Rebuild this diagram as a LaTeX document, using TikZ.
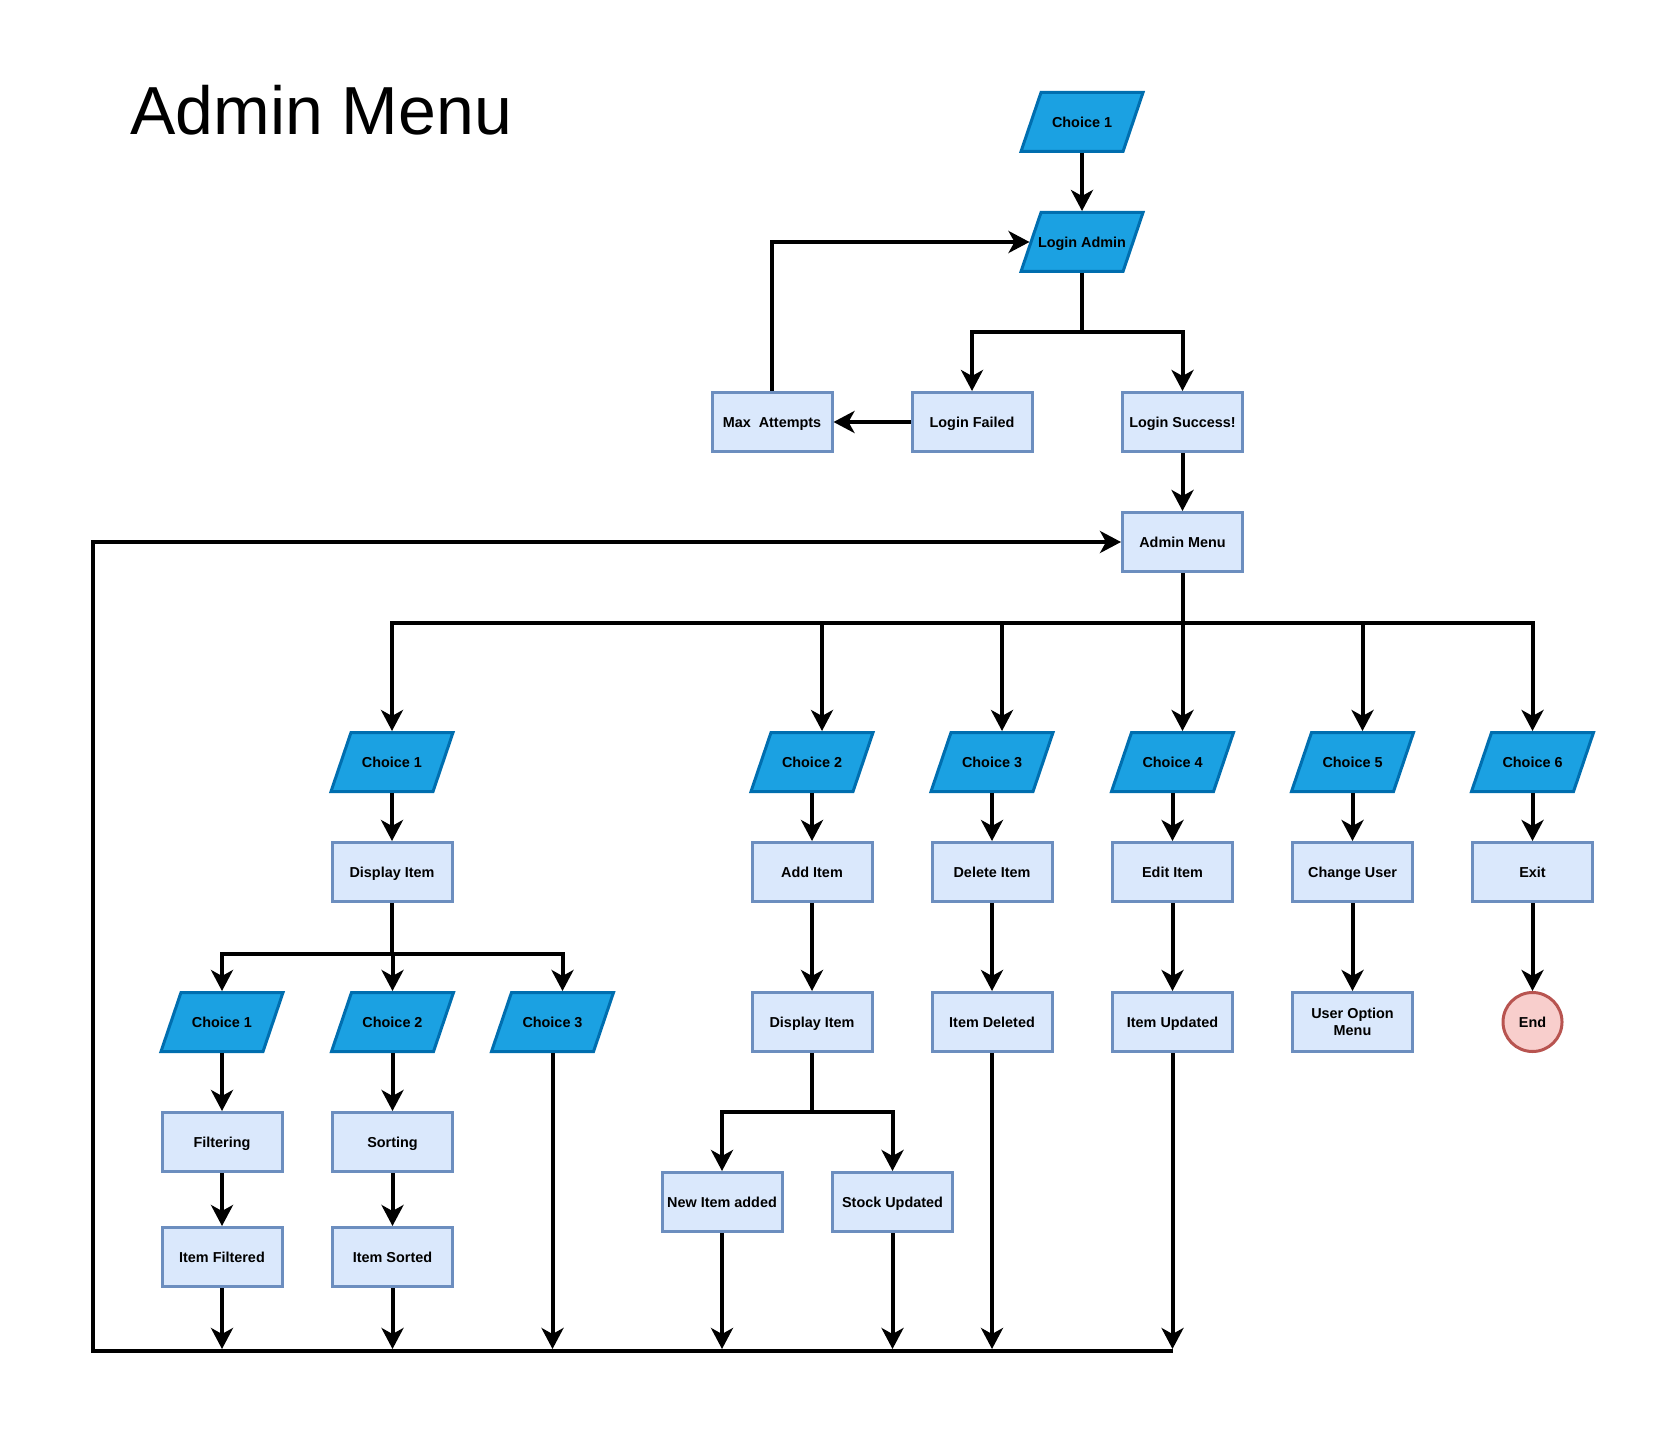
\documentclass[tikz,border=0pt]{standalone}
\usepackage{fontspec}
\setmainfont{Liberation Sans}
\usetikzlibrary{arrows.meta,calc}
\definecolor{iofill}{HTML}{1BA1E2}
\definecolor{iodraw}{HTML}{006EAF}
\definecolor{rectfill}{HTML}{DAE8FC}
\definecolor{rectdraw}{HTML}{6C8EBF}
\definecolor{endfill}{HTML}{F8CECC}
\definecolor{enddraw}{HTML}{B85450}
\newcommand\bxfont{\fontsize{7.2}{8.4}\selectfont\bfseries}
\tikzset{
  proc/.style={draw=rectdraw, fill=rectfill, line width=1.5pt, minimum width=60pt, minimum height=29.5pt, inner sep=1pt, align=center, font=\bxfont, text height=6pt, text depth=0.9pt},
  iotext/.style={minimum width=61pt, minimum height=29.5pt, inner sep=1pt, outer sep=0.75pt, align=center, font=\bxfont, text height=6pt, text depth=0.9pt},
  iobody/.style={fill=iofill, draw=iodraw, line width=1.5pt, line join=miter},
  endc/.style={circle, draw=enddraw, fill=endfill, line width=1.5pt, minimum size=29.5pt, inner sep=0pt, font=\bxfont, text height=6pt, text depth=0.9pt},
  ln/.style={line width=2pt, draw=black, line join=miter},
  arr/.style={ln, -{Stealth[length=10.5pt,width=11pt,inset=3pt]}},
  titlefont/.style={anchor=base west, inner sep=0pt, font=\fontsize{34}{40}\selectfont}
}
% parallelogram: name, x, y, text
\newcommand\iobox[4]{%
  \path[iobody] ({#2-61},{#3+29.5}) -- ({#2-41},{#3-29.5}) -- ({#2+61},{#3-29.5}) -- ({#2+41},{#3+29.5}) -- cycle;
  \node[iotext] (#1) at (#2,#3) {#4};
}
\begin{document}
\begin{tikzpicture}[x=0.5pt, y=-0.5pt]
\useasboundingbox (0,0) rectangle (1657,1443);

\node[titlefont] (title) at (130,135) {Admin Menu};

% top part
\iobox{c0}{1082}{122}{Choice 1}
\iobox{la}{1082}{242}{Login Admin}
\node[proc] (ma) at (772,422) {Max\ \ Attempts};
\node[proc] (lf) at (972,422) {Login Failed};
\node[proc] (ls) at (1182.5,422) {Login Success!};
\node[proc] (am) at (1182.5,542) {Admin Menu};

% choices row
\iobox{ch1}{392}{762}{Choice 1}
\iobox{ch2}{812}{762}{Choice 2}
\iobox{ch3}{992}{762}{Choice 3}
\iobox{ch4}{1172.5}{762}{Choice 4}
\iobox{ch5}{1352.5}{762}{Choice 5}
\iobox{ch6}{1532.5}{762}{Choice 6}

% second row
\node[proc] (di1) at (392,872) {Display Item};
\node[proc] (ai) at (812,872) {Add Item};
\node[proc] (dl) at (992,872) {Delete Item};
\node[proc] (ei) at (1172.5,872) {Edit Item};
\node[proc] (cu) at (1352.5,872) {Change User};
\node[proc] (ex) at (1532.5,872) {Exit};

% third row
\iobox{s1}{222}{1022}{Choice 1}
\iobox{s2}{392.5}{1022}{Choice 2}
\iobox{s3}{552.5}{1022}{Choice 3}
\node[proc] (di2) at (812,1022) {Display Item};
\node[proc] (idl) at (992,1022) {Item Deleted};
\node[proc] (iu) at (1172.5,1022) {Item Updated};
\node[proc, text height={}, text depth={}] (uom) at (1352.5,1022) {User Option\\Menu};
\node[endc] (end) at (1532.5,1022) {End};

% lower rows
\node[proc] (fi) at (222,1142) {Filtering};
\node[proc] (so) at (392.5,1142) {Sorting};
\node[proc] (itf) at (222,1257) {Item Filtered};
\node[proc] (its) at (392.5,1257) {Item Sorted};
\node[proc] (nia) at (722,1202) {New Item added};
\node[proc] (su) at (892.5,1202) {Stock Updated};

% connectors top
\draw[arr] (c0.south) -- (la.north);
\draw[ln] (la.south) -- (1082,332) coordinate (j1);
\draw[arr] (j1) -| (lf.north);
\draw[arr] (j1) -| (ls.north);
\draw[arr] (lf.west) -- (ma.east);
\draw[arr] (ma.north) |- ([xshift=5pt]la.west);
\draw[arr] (ls.south) -- (am.north);

% admin menu branches
\draw[ln] (am.south) -- (1182.5,622.5) coordinate (j2);
\draw[arr] (j2) -| (ch1.north);
\draw[arr] (j2) -| ([xshift=5pt]ch2.north);
\draw[arr] (j2) -| ([xshift=5pt]ch3.north);
\draw[arr] (j2) -| ([xshift=5pt]ch4.north);
\draw[arr] (j2) -| ([xshift=5pt]ch5.north);
\draw[arr] (j2) -| (ch6.north);

% columns
\draw[arr] (ch1.south) -- (di1.north);
\draw[arr] (ch2.south) -- (ai.north);
\draw[arr] (ch3.south) -- (dl.north);
\draw[arr] (ch4.south) -- (ei.north);
\draw[arr] (ch5.south) -- (cu.north);
\draw[arr] (ch6.south) -- (ex.north);
\draw[arr] (ai.south) -- (di2.north);
\draw[arr] (dl.south) -- (idl.north);
\draw[arr] (ei.south) -- (iu.north);
\draw[arr] (cu.south) -- (uom.north);
\draw[arr] (ex.south) -- (end.north);

% display item branches
\draw[ln] (di1.south) -- (392,954) coordinate (j3);
\draw[arr] (j3) -| (s1.north);
\draw[arr] (j3) -| (s2.north);
\draw[arr] (j3) -| ([xshift=5pt]s3.north);
\draw[arr] (s1.south) -- (fi.north);
\draw[arr] (fi.south) -- (itf.north);
\draw[arr] (s2.south) -- (so.north);
\draw[arr] (so.south) -- (its.north);

% add item branches
\draw[ln] (di2.south) -- (812,1112) coordinate (j4);
\draw[arr] (j4) -| (nia.north);
\draw[arr] (j4) -| (su.north);

% return loop
\coordinate (bR) at (1172.5,1351);
\coordinate (bL) at (93,1351);
\draw[arr] (bR) -- (bL) |- (am.west);
\draw[arr] (itf.south) -- ([yshift=1pt]itf.south |- bR);
\draw[arr] (its.south) -- ([yshift=1pt]its.south |- bR);
\draw[arr] (s3.south) -- ([yshift=1pt]s3.south |- bR);
\draw[arr] (nia.south) -- ([yshift=1pt]nia.south |- bR);
\draw[arr] (su.south) -- ([yshift=1pt]su.south |- bR);
\draw[arr] (idl.south) -- ([yshift=1pt]idl.south |- bR);
\draw[arr] (iu.south) -- ([yshift=1pt]iu.south |- bR);
\end{tikzpicture}
\end{document}
